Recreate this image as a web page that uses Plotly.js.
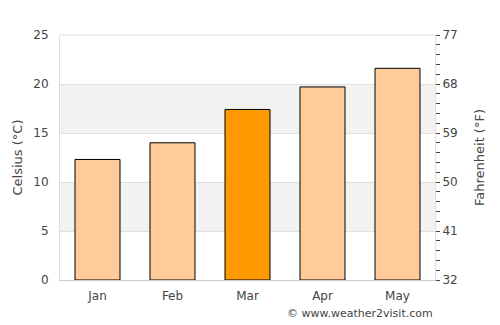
<!DOCTYPE html>
<html>
<head>
<meta charset="utf-8">
<script src="https://cdn.plot.ly/plotly-3.0.1.min.js"></script>
<style>html,body{margin:0;padding:0;background:#fff;}#chart{width:500px;height:325px;}</style>
</head>
<body>
<div id="chart"></div>
<script>
const months = ["Jan", "Feb", "Mar", "Apr", "May"];
const celsius = [12.3, 14.0, 17.4, 19.7, 21.6];
const barColors = ["#ffcc99", "#ffcc99", "#ff9900", "#ffcc99", "#ffcc99"];
const leftTicks = [0, 5, 10, 15, 20, 25];
const rightTicks = [32, 41, 50, 59, 68, 77];
const bandRanges = [[5, 10], [15, 20]];

const fahrenheit = celsius.map(c => c * 1.8 + 32);

const traces = [
  {
    type: "bar", x: months, y: celsius,
    marker: {color: barColors, line: {color: "#000", width: 1}},
    hoverinfo: "skip"
  },
  {
    type: "scatter", mode: "markers", x: months, y: fahrenheit, yaxis: "y2",
    marker: {opacity: 0}, hoverinfo: "skip", showlegend: false
  }
];

const font = {family: "DejaVu Sans, sans-serif", size: 12, color: "#444"};
const titleFont = {family: "DejaVu Sans, sans-serif", size: 13, color: "#444"};

const layout = {
  width: 500, height: 325,
  margin: {l: 60, r: 65, t: 35, b: 45},
  paper_bgcolor: "#fff", plot_bgcolor: "rgba(0,0,0,0)",
  showlegend: false, bargap: 0.4,
  font: font,
  xaxis: {
    range: [-0.5, 4.5], showgrid: false, zeroline: false,
    showline: true, linecolor: "#ccc", linewidth: 1, mirror: false,
    ticks: "outside", ticklen: 5, tickcolor: "rgba(0,0,0,0)",
    tickfont: font
  },
  yaxis: {
    range: [0, 25], tickvals: leftTicks, ticktext: leftTicks.map(String),
    showgrid: true, gridcolor: "#e0e0e0", zeroline: false,
    showline: true, linecolor: "#ddd", linewidth: 1,
    ticks: "outside", ticklen: 8, tickcolor: "rgba(0,0,0,0)",
    tickfont: font,
    title: {text: "Celsius (°C)", font: titleFont, standoff: 7}
  },
  yaxis2: {
    overlaying: "y", side: "right", range: [32, 77],
    tickvals: rightTicks, ticktext: rightTicks.map(String),
    showgrid: false, zeroline: false,
    showline: true, linecolor: "#ddd", linewidth: 1,
    ticks: "outside", ticklen: 4, tickcolor: "#444",
    minor: {dtick: 1.8, tick0: 32, ticks: "outside", ticklen: 4, tickcolor: "#444", showgrid: false},
    tickfont: font,
    title: {text: "Fahrenheit (°F)", font: titleFont, standoff: 18}
  },
  shapes: bandRanges.map(r => ({
    type: "rect", xref: "paper", yref: "y", x0: 0, x1: 1, y0: r[0], y1: r[1],
    fillcolor: "#f2f2f2", line: {width: 0}, layer: "below"
  })).concat([{
    type: "line", xref: "paper", yref: "paper", x0: 0, x1: 1, y0: 1, y1: 1,
    line: {color: "#ddd", width: 1}
  }]),
  annotations: [{
    text: "© www.weather2visit.com", xref: "paper", yref: "paper",
    x: 1, y: 0, yshift: -33, xanchor: "right", yanchor: "middle",
    showarrow: false, font: {family: "DejaVu Sans, sans-serif", size: 11, color: "#444"}
  }]
};

Plotly.newPlot("chart", traces, layout, {displayModeBar: false, staticPlot: true});
</script>
</body>
</html>
